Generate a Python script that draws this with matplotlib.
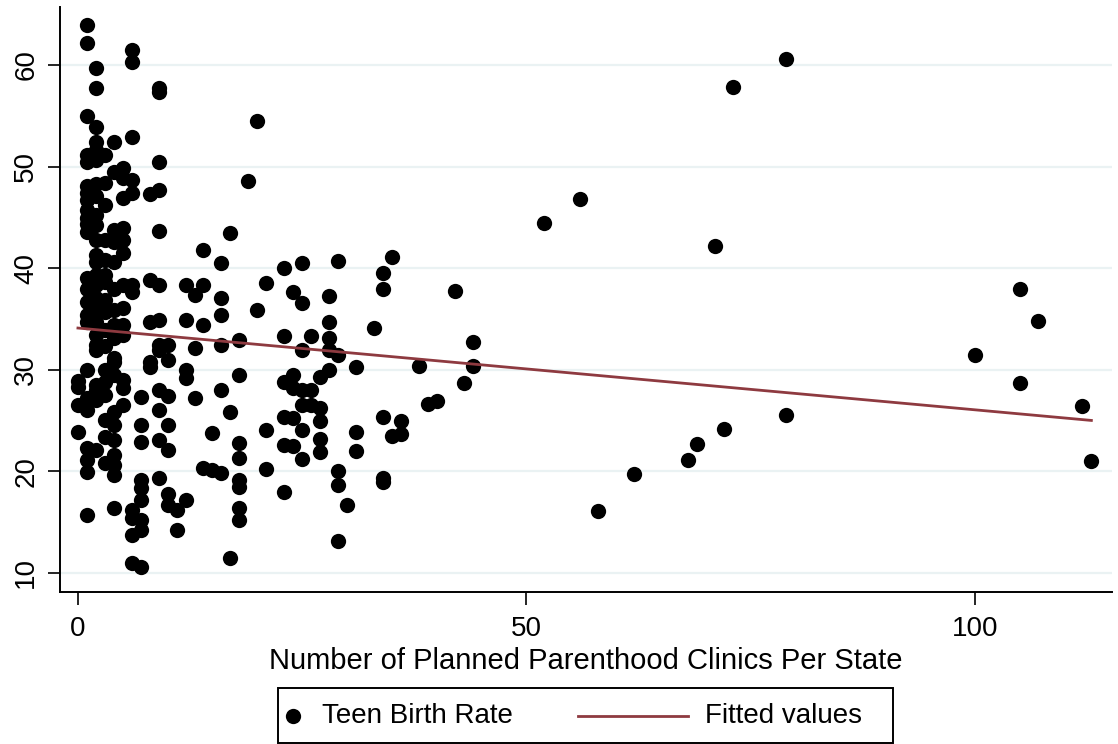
import numpy as np
import matplotlib
matplotlib.use("Agg")
import matplotlib.pyplot as plt
from matplotlib.patches import Rectangle
from matplotlib.lines import Line2D

plt.rcParams['font.family'] = ['Liberation Sans', 'DejaVu Sans']

# Teen birth rate by number of Planned Parenthood clinics
rates_by_clinics = {
    0: [28.9, 28.3, 26.5, 23.9],
    1: [63.9, 62.2, 55.0, 51.1, 50.4, 48.1, 47.4, 46.7, 45.7, 44.9, 44.3, 43.6, 39.0, 37.9,
        36.7, 35.4, 34.7, 30.0, 27.2, 26.0, 22.3, 21.1, 19.9, 15.7],
    2: [59.7, 57.7, 53.9, 52.4, 51.6, 50.6, 48.3, 47.1, 45.2, 44.2, 42.8, 41.3, 40.6, 39.3,
        38.3, 37.1, 35.9, 34.7, 33.4, 32.4, 31.9, 28.5, 28.0, 27.0, 22.1],
    3: [51.1, 48.4, 46.2, 42.8, 40.8, 39.3, 38.6, 36.9, 35.7, 33.9, 32.3, 30.0, 28.8, 27.5,
        25.1, 23.4, 20.8],
    4: [52.4, 49.5, 43.8, 42.6, 40.6, 37.9, 35.9, 34.4, 33.1, 31.2, 30.8, 29.5, 25.8, 24.6,
        23.1, 21.6, 20.6, 19.6, 16.4],
    5: [49.9, 48.9, 46.9, 44.0, 42.8, 41.5, 38.3, 36.1, 34.4, 33.4, 29.0, 28.2, 26.5],
    6: [61.5, 60.3, 52.9, 48.7, 47.4, 38.3, 37.7, 16.2, 15.4, 13.7, 11.0],
    7: [27.3, 24.6, 22.9, 19.2, 18.4, 17.2, 15.2, 14.2, 10.6],
    8: [47.3, 38.8, 34.7, 30.8, 30.3],
    9: [57.7, 57.3, 50.4, 47.7, 43.7, 38.3, 34.9, 32.4, 31.9, 28.0, 26.0, 23.1, 19.3],
    10: [32.4, 31.0, 27.4, 24.6, 22.1, 17.8, 16.7],
    11: [16.2, 14.2],
    12: [38.3, 34.9, 30.0, 29.2, 17.2],
    13: [37.4, 32.1, 27.2],
    14: [41.8, 38.3, 34.4, 20.3],
    15: [23.8, 20.1],
    16: [40.5, 37.1, 35.4, 32.4, 28.0, 19.8],
    17: [43.5, 25.8, 11.5],
    18: [32.9, 29.5, 22.8, 21.3, 19.2, 18.5, 16.4, 15.2],
    19: [48.6],
    20: [54.5, 35.9],
    21: [38.5, 24.1, 20.2],
    23: [40.0, 33.3, 28.8, 25.4, 22.6, 18.0],
    24: [37.7, 29.5, 28.2, 25.3, 22.5],
    25: [40.5, 36.6, 31.9, 28.0, 26.5, 24.1, 21.2],
    26: [33.3, 28.0, 26.5],
    27: [29.3, 26.2, 25.0, 23.2, 21.9],
    28: [37.3, 34.7, 33.1, 31.9, 30.0],
    29: [40.7, 31.5, 20.0, 18.7, 13.1],
    30: [16.7],
    31: [30.3, 23.9, 22.0],
    33: [34.1],
    34: [39.5, 37.9, 25.4, 19.3, 19.0],
    35: [41.1, 23.5],
    36: [25.0, 23.7],
    38: [30.4],
    39: [26.6],
    40: [26.9],
    42: [37.8],
    43: [28.7],
    44: [32.7, 30.4],
    52: [44.4],
    56: [46.8],
    58: [16.1],
    62: [19.7],
    68: [21.1],
    69: [22.7],
    71: [42.2],
    72: [24.2],
    73: [57.8],
    79: [60.6, 25.5],
    100: [31.5],
    105: [37.9, 28.7],
    107: [34.8],
    112: [26.4],
    113: [21.0],
}

clinics = np.array([k for k, v in rates_by_clinics.items() for _ in v], dtype=float)
teen_rate = np.array([y for v in rates_by_clinics.values() for y in v], dtype=float)

x_ticks = [0, 50, 100]
y_ticks = [10, 20, 30, 40, 50, 60]
legend_labels = ['Teen Birth Rate', 'Fitted values']

W, H = 1118, 744
fig = plt.figure(figsize=(W / 100, H / 100), dpi=100)
ax = fig.add_axes([60/W, 1-592/H, (1112-60)/W, (592-7)/H])

line_color = '#8E3A40'
for yt in y_ticks:
    ax.axhline(yt, color='#EAF2F3', lw=1.6, zorder=0)

ax.plot(clinics, teen_rate, 'o', color='black', markersize=11, markeredgewidth=0,
        clip_on=False, zorder=3)

slope, intercept = np.polyfit(clinics, teen_rate, 1)
xf = np.array([clinics.min(), clinics.max()])
ax.plot(xf, intercept + slope * xf, color=line_color, lw=2.0, zorder=4)

ax.set_xlim(-2.0, 115.3)
ax.set_ylim(8.13, 65.7)
ax.set_xticks(x_ticks)
ax.set_yticks(y_ticks)
ax.tick_params(axis='both', labelsize=20, length=9, width=1.2, color='black')
ax.tick_params(axis='x', pad=8)
ax.tick_params(axis='y', pad=6)
for lab in ax.get_yticklabels():
    lab.set_rotation(90)
    lab.set_va('center')
for s in ['top', 'right']:
    ax.spines[s].set_visible(False)
for s in ['left', 'bottom']:
    ax.spines[s].set_linewidth(1.4)
ax.set_xlabel('Number of Planned Parenthood Clinics Per State', fontsize=21, labelpad=4)

# Legend drawn in figure pixel coordinates (Stata-style layout)
def fx(px):
    return px / W

def fy(py):
    return 1 - py / H

fig.patches.append(Rectangle((fx(278), fy(743)), fx(893) - fx(278), fy(688) - fy(743),
                             transform=fig.transFigure, fill=False, edgecolor='black',
                             lw=1.4, zorder=5))
ly = fy(716)
fig.lines.append(Line2D([fx(293)], [ly], marker='o', ls='none', color='black',
                        markersize=11, markeredgewidth=0, transform=fig.transFigure))
fig.text(fx(322), ly, legend_labels[0], fontsize=20, va='center', ha='left')
fig.lines.append(Line2D([fx(578), fx(688)], [ly, ly], color=line_color, lw=2.0,
                        transform=fig.transFigure))
fig.text(fx(705), ly, legend_labels[1], fontsize=20, va='center', ha='left')

fig.savefig('out.png', dpi=100)
